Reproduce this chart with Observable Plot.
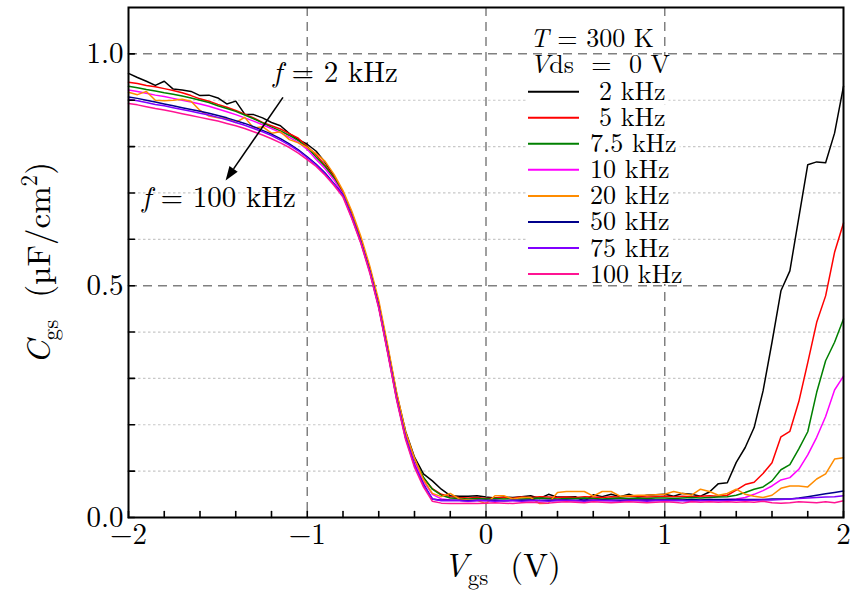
<!DOCTYPE html>
<html><head><meta charset="utf-8">
<script src="https://cdn.jsdelivr.net/npm/d3@7"></script>
<script src="https://cdn.jsdelivr.net/npm/@observablehq/plot@0.6"></script>
<style>body{margin:0;background:#fff}</style>
</head><body><div id="chart"></div>
<script>
// ---- data ----
const vgs = [-2,-1.95,-1.9,-1.85,-1.8,-1.75,-1.7,-1.65,-1.6,-1.55,-1.5,-1.45,-1.4,-1.35,-1.3,-1.25,-1.2,-1.15,-1.1,-1.05,-1,-0.95,-0.9,-0.85,-0.8,-0.75,-0.7,-0.65,-0.6,-0.55,-0.5,-0.45,-0.4,-0.35,-0.3,-0.25,-0.2,-0.15,-0.1,-0.05,0,0.05,0.1,0.15,0.2,0.25,0.3,0.35,0.4,0.45,0.5,0.55,0.6,0.65,0.7,0.75,0.8,0.85,0.9,0.95,1,1.05,1.1,1.15,1.2,1.25,1.3,1.35,1.4,1.45,1.5,1.55,1.6,1.65,1.7,1.75,1.8,1.85,1.9,1.95,2];
const c2k = [0.958,0.949,0.941,0.932,0.941,0.924,0.922,0.919,0.910,0.911,
 0.905,0.892,0.898,0.870,0.869,0.862,0.852,0.845,0.828,0.815,
 0.805,0.790,0.766,0.736,0.702,0.655,0.600,0.537,0.462,0.367,
 0.267,0.186,0.130,0.094,0.079,0.061,0.047,0.046,0.046,0.047,
 0.044,0.042,0.044,0.043,0.045,0.047,0.041,0.050,0.044,0.044,
 0.045,0.035,0.049,0.045,0.050,0.045,0.050,0.044,0.048,0.049,
 0.050,0.046,0.052,0.050,0.046,0.055,0.073,0.075,0.119,0.151,
 0.194,0.273,0.378,0.489,0.532,0.647,0.761,0.767,0.765,0.829,
 0.930];
const c5k = [0.939,0.936,0.932,0.929,0.925,0.921,0.916,0.910,0.903,0.898,
 0.891,0.885,0.878,0.870,0.862,0.852,0.845,0.838,0.828,0.818,
 0.800,0.782,0.760,0.734,0.700,0.652,0.597,0.534,0.458,0.363,
 0.262,0.180,0.125,0.085,0.062,0.050,0.045,0.043,0.042,0.043,
 0.041,0.042,0.043,0.042,0.044,0.043,0.045,0.044,0.043,0.044,
 0.043,0.045,0.044,0.043,0.045,0.044,0.046,0.045,0.044,0.045,
 0.046,0.045,0.046,0.045,0.046,0.047,0.046,0.048,0.059,0.071,
 0.076,0.095,0.118,0.174,0.186,0.250,0.334,0.421,0.478,0.572,
 0.635];
const c7k5 = [0.930,0.927,0.923,0.920,0.916,0.913,0.909,0.905,0.900,0.895,
 0.888,0.882,0.876,0.868,0.860,0.851,0.842,0.834,0.824,0.813,
 0.798,0.777,0.757,0.732,0.698,0.650,0.596,0.533,0.457,0.362,
 0.262,0.180,0.124,0.087,0.061,0.048,0.042,0.041,0.040,0.041,
 0.040,0.041,0.040,0.041,0.040,0.041,0.042,0.041,0.040,0.041,
 0.041,0.042,0.041,0.040,0.041,0.042,0.041,0.042,0.041,0.042,
 0.042,0.041,0.042,0.043,0.042,0.043,0.044,0.045,0.048,0.054,
 0.061,0.066,0.079,0.103,0.114,0.148,0.185,0.270,0.338,0.378,
 0.428];
const c10k = [0.922,0.919,0.915,0.911,0.908,0.904,0.900,0.896,0.892,0.887,
 0.881,0.875,0.869,0.862,0.855,0.847,0.839,0.830,0.820,0.809,
 0.794,0.772,0.752,0.728,0.697,0.649,0.595,0.532,0.456,0.360,
 0.260,0.176,0.118,0.078,0.050,0.040,0.038,0.037,0.036,0.037,
 0.036,0.037,0.036,0.037,0.036,0.037,0.036,0.037,0.038,0.037,
 0.036,0.037,0.038,0.037,0.036,0.037,0.038,0.037,0.038,0.037,
 0.038,0.037,0.038,0.037,0.038,0.039,0.038,0.039,0.040,0.043,
 0.050,0.058,0.068,0.081,0.086,0.104,0.135,0.173,0.218,0.275,
 0.305];
const c20k = [0.917,0.912,0.919,0.900,0.899,0.900,0.902,0.898,0.878,0.866,
 0.862,0.861,0.852,0.863,0.840,0.843,0.829,0.832,0.815,0.808,
 0.798,0.785,0.768,0.740,0.705,0.660,0.606,0.542,0.468,0.372,
 0.270,0.185,0.128,0.082,0.052,0.045,0.052,0.040,0.037,0.037,
 0.030,0.047,0.047,0.040,0.043,0.043,0.030,0.031,0.054,0.056,
 0.056,0.056,0.046,0.056,0.056,0.046,0.047,0.048,0.048,0.049,
 0.050,0.056,0.052,0.048,0.061,0.056,0.048,0.052,0.061,0.050,
 0.046,0.043,0.048,0.063,0.068,0.068,0.066,0.083,0.094,0.126,
 0.129];
const c50k = [0.907,0.904,0.900,0.896,0.892,0.888,0.884,0.880,0.876,0.872,
 0.867,0.862,0.856,0.850,0.843,0.835,0.827,0.817,0.806,0.793,
 0.778,0.762,0.743,0.720,0.695,0.647,0.594,0.531,0.455,0.358,
 0.257,0.172,0.112,0.072,0.040,0.037,0.037,0.037,0.036,0.037,
 0.037,0.037,0.036,0.037,0.037,0.038,0.037,0.037,0.037,0.038,
 0.037,0.038,0.037,0.038,0.038,0.037,0.038,0.038,0.038,0.038,
 0.038,0.038,0.038,0.039,0.038,0.039,0.039,0.039,0.039,0.039,
 0.039,0.039,0.040,0.040,0.040,0.042,0.045,0.048,0.051,0.054,
 0.057];
const c75k = [0.902,0.899,0.895,0.891,0.888,0.884,0.880,0.876,0.872,0.868,
 0.863,0.858,0.852,0.846,0.839,0.832,0.824,0.814,0.803,0.791,
 0.776,0.760,0.741,0.719,0.694,0.646,0.593,0.530,0.454,0.357,
 0.256,0.172,0.113,0.070,0.040,0.036,0.036,0.036,0.035,0.036,
 0.036,0.035,0.036,0.036,0.035,0.036,0.036,0.035,0.036,0.036,
 0.036,0.035,0.036,0.036,0.036,0.035,0.036,0.036,0.035,0.036,
 0.036,0.036,0.036,0.035,0.036,0.036,0.036,0.036,0.037,0.037,
 0.037,0.038,0.038,0.039,0.040,0.041,0.042,0.043,0.044,0.045,
 0.047];
const c100k = [0.893,0.890,0.886,0.882,0.879,0.875,0.871,0.867,0.863,0.859,
 0.855,0.850,0.845,0.839,0.832,0.825,0.817,0.808,0.798,0.786,
 0.772,0.757,0.738,0.716,0.691,0.644,0.591,0.527,0.451,0.354,
 0.253,0.168,0.108,0.066,0.035,0.031,0.030,0.030,0.031,0.030,
 0.031,0.032,0.031,0.030,0.032,0.033,0.032,0.031,0.033,0.034,
 0.033,0.032,0.034,0.033,0.032,0.033,0.034,0.033,0.032,0.033,
 0.034,0.033,0.031,0.034,0.033,0.034,0.033,0.034,0.033,0.034,
 0.033,0.035,0.032,0.031,0.032,0.034,0.033,0.032,0.034,0.032,
 0.036];
const seriesNames = ["2 kHz","5 kHz","7.5 kHz","10 kHz","20 kHz","50 kHz","75 kHz","100 kHz"];
const seriesValues = [c2k,c5k,c7k5,c10k,c20k,c50k,c75k,c100k];
const seriesColors = ["#000000","#ff0000","#008000","#ff00ff","#ff8c00","#00008b","#8000ff","#ff1493"];
const xTicks = [-2,-1,0,1,2];
const xMinorTicks = [-1.8,-1.6,-1.4,-1.2,-0.8,-0.6,-0.4,-0.2,0.2,0.4,0.6,0.8,1.2,1.4,1.6,1.8];
const yTicks = [0,0.5,1.0];
const yMinorTicks = [0.1,0.2,0.3,0.4,0.6,0.7,0.8,0.9];
const xGridMajor = [-1,0,1];
const yGridMajor = [0.5,1.0];
const arrowFrom = [-1.133, 0.905];
const arrowTo = [-1.454, 0.726];

// ---- build ----
const rows = [];
seriesNames.forEach((name, k) => {
  vgs.forEach((x, i) => rows.push({series: name, x, y: seriesValues[k][i]}));
});
const FONT = "'Latin Modern Roman', 'Liberation Serif', serif";
const tickShape = {draw(ctx, l) { ctx.moveTo(0, 0); ctx.lineTo(0, -l); }};
const allXTicks = xTicks.concat(xMinorTicks);
const allYTicks = yTicks.concat(yMinorTicks);

const plot = Plot.plot({
  width: 859, height: 600,
  marginLeft: 128, marginRight: 16, marginTop: 7, marginBottom: 83,
  x: {domain: [-2, 2]},
  y: {domain: [0, 1.1]},
  color: {domain: seriesNames, range: seriesColors},
  style: {fontFamily: FONT, fontSize: "29px", background: "white", color: "black"},
  marks: [
    Plot.ruleY(yMinorTicks, {stroke: "#c8c8c8", strokeWidth: 1.2, strokeDasharray: "2.5,2.5"}),
    Plot.ruleY(yGridMajor, {stroke: "#808080", strokeWidth: 1.5, strokeDasharray: "9,6"}),
    Plot.ruleX(xGridMajor, {stroke: "#808080", strokeWidth: 1.5, strokeDasharray: "9,6"}),
    Plot.line(rows, {x: "x", y: "y", z: "series", stroke: "series", strokeWidth: 1.5}),
    Plot.vector(allXTicks, {x: d => d, frameAnchor: "bottom", length: 6, anchor: "start", rotate: 0, shape: tickShape, stroke: "black", strokeWidth: 1.6}),
    Plot.vector(allYTicks, {y: d => d, frameAnchor: "left", length: 6, anchor: "start", rotate: 90, shape: tickShape, stroke: "black", strokeWidth: 1.6}),
    Plot.frame({stroke: "black", strokeWidth: 2}),
    Plot.axisX(xTicks, {tickSize: 0, tickPadding: 6, fontSize: 29, label: null,
      tickFormat: d => d < 0 ? "\u2212" + Math.abs(d) : String(d)}),
    Plot.axisY(yTicks, {tickSize: 0, tickPadding: 5, fontSize: 29, label: null,
      tickFormat: d => d.toFixed(1)})
  ]
});
document.getElementById("chart").appendChild(plot);

const svg = plot;
const ns = "http://www.w3.org/2000/svg";
const sx = plot.scale("x"), sy = plot.scale("y");
function addText(parent, x, y, parts, {size = 28, anchor = "start", transform = null} = {}) {
  const t = document.createElementNS(ns, "text");
  t.setAttribute("x", x); t.setAttribute("y", y);
  t.setAttribute("text-anchor", anchor);
  t.style.fontFamily = FONT;
  t.setAttribute("font-size", size);
  t.setAttribute("fill", "black");
  t.style.whiteSpace = "pre";
  if (transform) t.setAttribute("transform", transform);
  let shift = 0;
  for (const [s, o = {}] of parts) {
    const ts = document.createElementNS(ns, "tspan");
    ts.textContent = s;
    let target = 0;
    if (o.sub) target = size * 0.25;
    if (o.sup) target = -size * 0.4;
    const dy = target - shift; shift = target;
    if (dy) ts.setAttribute("dy", dy);
    if (o.dx) ts.setAttribute("dx", o.dx);
    if (o.i) ts.setAttribute("font-style", "italic");
    if (o.sub || o.sup) ts.setAttribute("font-size", size * 0.7);
    t.appendChild(ts);
  }
  parent.appendChild(t);
  return t;
}
function addRect(x, y, w, h, fill) {
  const r = document.createElementNS(ns, "rect");
  r.setAttribute("x", x); r.setAttribute("y", y); r.setAttribute("width", w); r.setAttribute("height", h);
  r.setAttribute("fill", fill);
  return r;
}

// axis labels
addText(svg, 502, 577, [["V", {i: true}], ["gs", {sub: true}], ["  (V)"]], {size: 33, anchor: "middle"});
addText(svg, 0, 0, [["C", {i: true}], ["gs", {sub: true}], ["  (\u00b5F/cm"], ["2", {sup: true}], [")"]],
  {size: 33, anchor: "middle", transform: "translate(50,263) rotate(-90)"});

// legend
const legendG = document.createElementNS(ns, "g");
svg.appendChild(legendG);
addText(svg, 530, 47, [["T", {i: true}], [" = 300 K"]], {size: 26});
const rowCenters = seriesNames.map((_, k) => 91.7 + k * 26.05);
const vdsText = addText(svg, 530, 73, [["V", {i: true}], ["ds  =  0 V"]], {size: 26});
const labelTexts = [];
seriesNames.forEach((name, k) => {
  const cy = rowCenters[k];
  const ln = document.createElementNS(ns, "line");
  ln.setAttribute("x1", 528); ln.setAttribute("x2", 579);
  ln.setAttribute("y1", cy); ln.setAttribute("y2", cy);
  ln.setAttribute("stroke", seriesColors[k]); ln.setAttribute("stroke-width", 2);
  svg.appendChild(ln);
  const tx = name.length <= 5 ? 599 : 590;
  labelTexts.push(addText(svg, tx, cy + 8.5, [[name]], {size: 26}));
});
// white background behind legend rows
const bgRows = [{top: 55, bottom: 78.7, el: vdsText}].concat(labelTexts.map((el, k) => ({
  top: rowCenters[k] - 13, bottom: k === labelTexts.length - 1 ? 284 : rowCenters[k] + 13.05, el})));
for (const r of bgRows) {
  const bb = r.el.getBBox();
  legendG.appendChild(addRect(526, r.top, bb.x + bb.width + 3 - 526, r.bottom - r.top, "white"));
}

// annotation
addText(svg, 273, 82, [["f", {i: true}], [" = 2 kHz"]], {size: 29});
addText(svg, 142, 207, [["f", {i: true}], [" = 100 kHz"]], {size: 29});
const ax1 = sx.apply(arrowFrom[0]), ay1 = sy.apply(arrowFrom[1]);
const ax2 = sx.apply(arrowTo[0]), ay2 = sy.apply(arrowTo[1]);
const ang = Math.atan2(ay2 - ay1, ax2 - ax1);
const hl = 14, hw = 5;
const bx = ax2 - hl * Math.cos(ang), by = ay2 - hl * Math.sin(ang);
const shaft = document.createElementNS(ns, "line");
shaft.setAttribute("x1", ax1); shaft.setAttribute("y1", ay1);
shaft.setAttribute("x2", bx); shaft.setAttribute("y2", by);
shaft.setAttribute("stroke", "black"); shaft.setAttribute("stroke-width", 1.6);
svg.appendChild(shaft);
const head = document.createElementNS(ns, "path");
const px = -Math.sin(ang) * hw, py = Math.cos(ang) * hw;
head.setAttribute("d", `M${ax2},${ay2}L${bx + px},${by + py}L${bx - px},${by - py}Z`);
head.setAttribute("fill", "black");
svg.appendChild(head);
</script>
</body></html>
